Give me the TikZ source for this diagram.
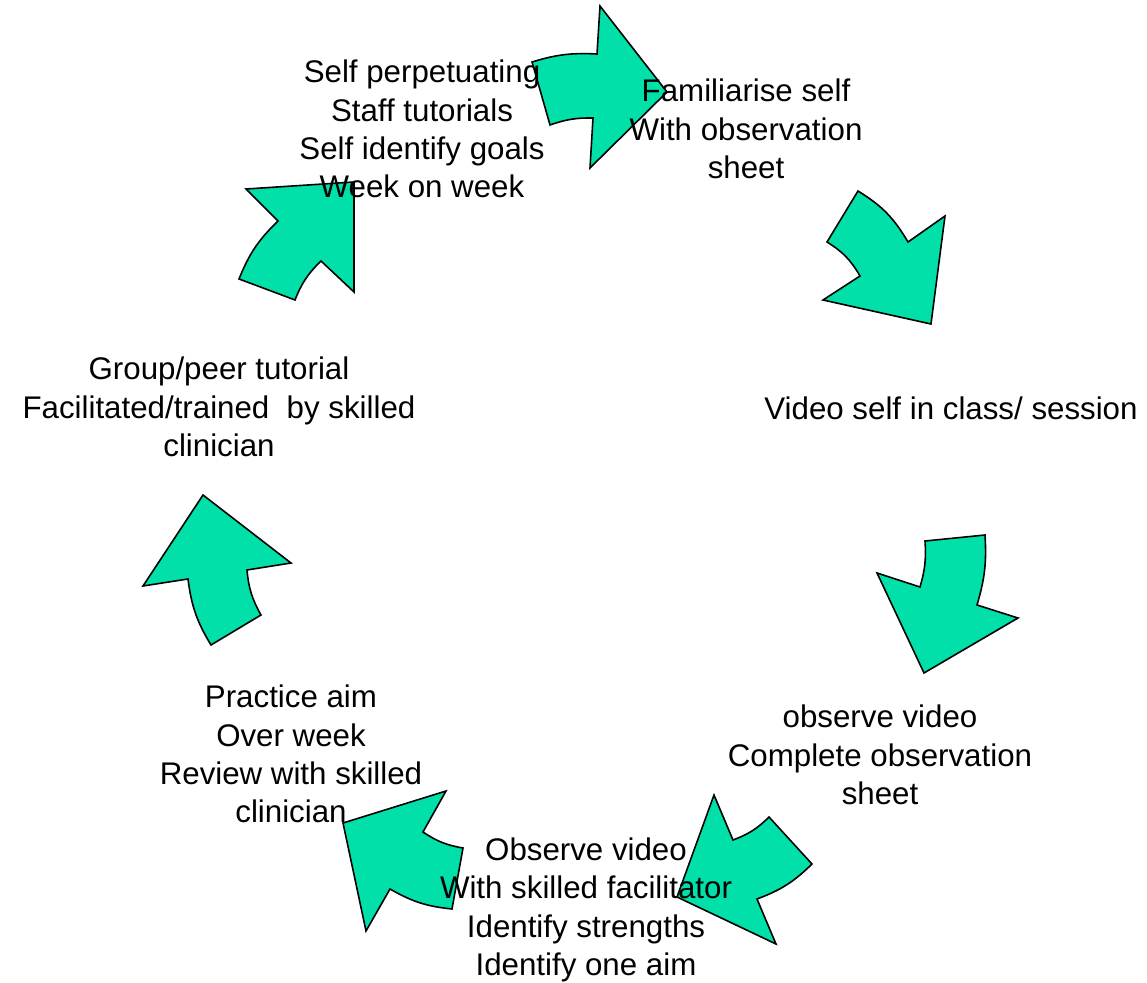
\documentclass[tikz,border=0pt]{standalone}
\usepackage{fontspec}
\setmainfont{Liberation Sans}
\usepackage{tikz}
\definecolor{mint}{HTML}{00E0A8}
\tikzset{
  cyclearrow/.style={draw=black, fill=mint, line width=0.9pt, line join=miter},
  steptext/.style={align=center, inner sep=0pt, font=\fontsize{17.8}{21.8}\selectfont}
}

\begin{document}
\begin{tikzpicture}[x=0.02cm, y=0.02cm]
				%%%%% START %%%%%
				\useasboundingbox (0, 0) rectangle (1147, -983);
				
				% top arrow
				\draw[cyclearrow] (532, -62) to[bend left=10] (597, -54) -- (600, -6) -- (667, -92)
				  -- (590, -168) -- (593, -118) to[bend right=10] (550, -125) -- cycle;
				
				% upper right arrow
				\draw[cyclearrow] (858, -191) to[bend left=14] (908, -242) -- (945, -216) -- (931, -324)
				  -- (823, -300) -- (860, -276) to[bend right=14] (827, -242) -- cycle;
				
				% right arrow
				\draw[cyclearrow] (925, -541) -- (985, -535) to[bend left=10] (977, -605) -- (1018, -618)
				  -- (924, -673) -- (877, -573) -- (920, -587) to[bend right=10] cycle;
				
				% lower right arrow
				\draw[cyclearrow] (714, -795) -- (733, -840) to[bend right=12] (769, -817) -- (812, -864)
				  to[bend left=12] (757, -899) -- (776, -944) -- (677, -897) -- cycle;
				
				% lower left arrow
				\draw[cyclearrow] (343, -823) -- (446, -791) -- (423, -832) to[bend right=12] (463, -848)
				  -- (452, -909) to[bend left=12] (390, -889) -- (366, -931) -- cycle;
				
				% left arrow
				\draw[cyclearrow] (203, -495) -- (291, -563) -- (247, -570) to[bend right=12] (261, -615)
				  -- (211, -645) to[bend left=12] (188, -579) -- (143, -586) -- cycle;
				
				% upper left arrow
				\draw[cyclearrow] (246, -189) -- (354, -182) -- (354, -292) -- (321, -261)
				  to[bend right=12] (295, -300) -- (239, -279) to[bend left=12] (278, -221) -- cycle;
				
				% steps
				\node[steptext] (selfstep) at (422, -129) {Self perpetuating\\Staff tutorials\\Self identify goals\\Week on week};
				\node[steptext] (famstep) at (746, -129) {Familiarise self\\With observation\\sheet};
				\node[steptext] (videostep) at (951, -408) {Video self in class/ session};
				\node[steptext] (obsstep) at (880, -755) {observe video\\Complete observation\\sheet};
				\node[steptext] (facstep) at (586, -910) {Observe video\\With skilled facilitator\\Identify strengths\\Identify one aim};
				\node[steptext] (pracstep) at (291, -754) {Practice aim\\Over week\\Review with skilled\\clinician};
				\node[steptext] (groupstep) at (219, -407) {Group/peer tutorial\\Facilitated/trained~ by skilled\\clinician};
				%%%%% END %%%%%
\end{tikzpicture}
\end{document}
